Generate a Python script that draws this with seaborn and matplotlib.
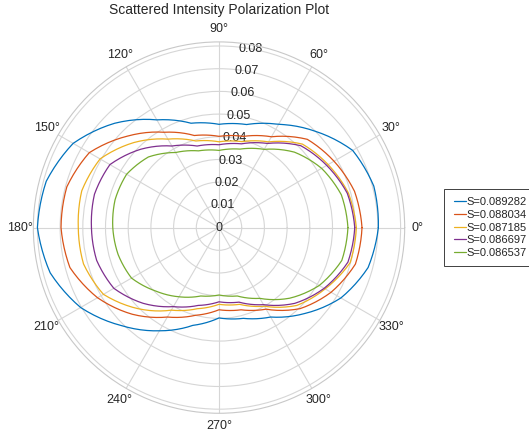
import matplotlib.pyplot as plt
import numpy as np
import pandas as pd
import seaborn as sns
from matplotlib.patches import Rectangle

angles_deg = [0, 15, 30, 45, 60, 75, 90, 105, 120, 135, 150, 165,
              180, 195, 210, 225, 240, 255, 270, 285, 300, 315, 330, 345]

s_labels = ['S=0.089282', 'S=0.088034', 'S=0.087185', 'S=0.086697', 'S=0.086537']

r_s1 = [0.0702, 0.0706, 0.0680, 0.0600, 0.0525, 0.0470, 0.0455, 0.0476, 0.0548, 0.0650, 0.0742, 0.0788,
        0.0800, 0.0770, 0.0704, 0.0610, 0.0525, 0.0446, 0.0398, 0.0414, 0.0455, 0.0535, 0.0620, 0.0680]
r_s2 = [0.0630, 0.0618, 0.0585, 0.0550, 0.0462, 0.0416, 0.0402, 0.0420, 0.0485, 0.0570, 0.0660, 0.0694,
        0.0696, 0.0680, 0.0618, 0.0540, 0.0455, 0.0400, 0.0362, 0.0375, 0.0415, 0.0505, 0.0570, 0.0622]
r_s3 = [0.0605, 0.0590, 0.0555, 0.0520, 0.0436, 0.0392, 0.0378, 0.0395, 0.0450, 0.0530, 0.0605, 0.0626,
        0.0620, 0.0618, 0.0588, 0.0505, 0.0420, 0.0370, 0.0338, 0.0350, 0.0400, 0.0485, 0.0540, 0.0598]
r_s4 = [0.0598, 0.0585, 0.0548, 0.0510, 0.0428, 0.0382, 0.0365, 0.0372, 0.0415, 0.0488, 0.0555, 0.0568,
        0.0562, 0.0558, 0.0535, 0.0472, 0.0402, 0.0355, 0.0327, 0.0340, 0.0392, 0.0472, 0.0535, 0.0588]
r_s5 = [0.0568, 0.0558, 0.0522, 0.0470, 0.0398, 0.0358, 0.0340, 0.0350, 0.0382, 0.0440, 0.0470, 0.0474,
        0.0468, 0.0460, 0.0445, 0.0395, 0.0352, 0.0312, 0.0297, 0.0312, 0.0360, 0.0440, 0.0510, 0.0560]

r_ticks = [0, 0.01, 0.02, 0.03, 0.04, 0.05, 0.06, 0.07, 0.08]
r_tick_labels = ['0', '0.01', '0.02', '0.03', '0.04', '0.05', '0.06', '0.07', '0.08']
theta_ticks = [0, 30, 60, 90, 120, 150, 180, 210, 240, 270, 300, 330]

colors = ['#0072BD', '#D95319', '#EDB120', '#7E2F8E', '#77AC30']

sns.set_style('white')
plt.rcParams['font.family'] = ['Liberation Sans', 'DejaVu Sans']

# long table, each curve closed back on its first point
rows = []
for label, vals in zip(s_labels, [r_s1, r_s2, r_s3, r_s4, r_s5]):
    for d, r in zip(angles_deg + [360], vals + [vals[0]]):
        rows.append({'theta': np.deg2rad(d), 'r': r, 'series': label})
df = pd.DataFrame(rows)

fig = plt.figure(figsize=(5.29, 4.36), dpi=100)
ax = fig.add_axes([0.063, 0.052, 0.702, 0.852], projection='polar')

sns.lineplot(data=df, x='theta', y='r', hue='series', palette=colors,
             sort=False, estimator=None, linewidth=0.9, ax=ax)
for line in ax.lines:
    line.get_path()._interpolation_steps = 12

ax.set_ylim(0, 0.0818)
ax.set_rticks(r_ticks)
ax.set_yticklabels(r_tick_labels, fontsize=9, color='#262626')
for lab in ax.get_yticklabels():
    lab.set_ha('center')
    lab.set_va('center')
ax.set_rlabel_position(80)
ax.set_thetagrids(theta_ticks, labels=[f'{t}°' for t in theta_ticks], fontsize=9, color='#262626')
ax.tick_params(axis='x', pad=-1)
ax.grid(True, color='#d6d6d6', linewidth=0.8)
ax.spines['polar'].set_color('#c8c8c8')
ax.spines['polar'].set_linewidth(0.8)
ax.set_xlabel('')
ax.set_ylabel('')

# legend: box drawn separately so the handles sit inset like the original
handles, labels = ax.get_legend_handles_labels()
ax.get_legend().remove()
fig.add_artist(Rectangle((444 / 529, 1 - 266 / 436), 100 / 529, 77 / 436,
                         transform=fig.transFigure, facecolor='white',
                         edgecolor='#404040', linewidth=0.7))
fig.legend(handles, labels, loc='center left', bbox_to_anchor=(454 / 529, 1 - 227.5 / 436),
           fontsize=8, frameon=False, handlelength=1.05, handletextpad=0.05,
           borderpad=0, labelspacing=0.25, borderaxespad=0)

fig.text(219 / 529, 1 - 10 / 436, 'Scattered Intensity Polarization Plot',
         ha='center', va='center', fontsize=10, color='#262626')

fig.savefig('out.png', dpi=100)
